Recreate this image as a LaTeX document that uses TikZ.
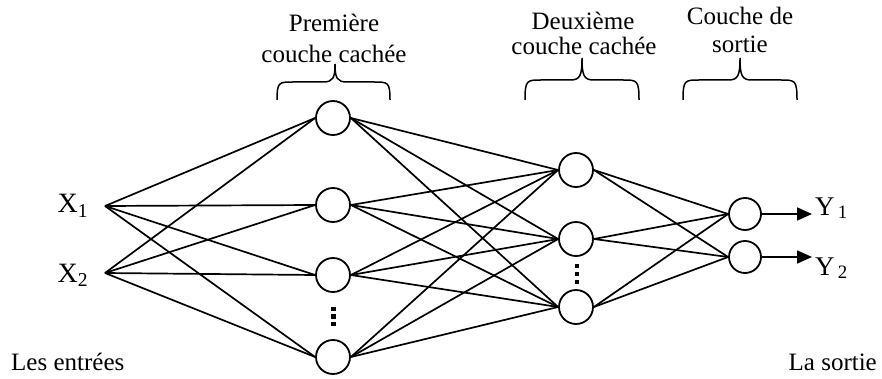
\documentclass[tikz,border=0pt]{standalone}
\usepackage{fontspec}
\setmainfont{Liberation Serif}
\usetikzlibrary{arrows.meta}
\tikzset{
  neuron/.style={circle,draw,line width=1.8pt,minimum size=34pt,inner sep=0pt},
  oneuron/.style={circle,draw,line width=1.8pt,minimum size=32pt,inner sep=0pt},
  conn/.style={line width=1.7pt},
  bracestyle/.style={line width=1.5pt},
  lbl/.style={font=\fontsize{25}{29}\selectfont,anchor=base,inner sep=0pt},
  inlbl/.style={font=\fontsize{28}{32}\selectfont,anchor=base,inner sep=0pt},
  outlbl/.style={font=\fontsize{27}{31}\selectfont,anchor=base west,inner sep=0pt},
  dotsq/.style={fill=black}
}
\begin{document}
\begin{tikzpicture}[x=1pt,y=-1pt]
\useasboundingbox (0,0) rectangle (882,379);
% inputs
\node[inlbl] (x1) at (73,213) {X\textsubscript{1}};
\node[inlbl] (x2) at (73,282) {X\textsubscript{2}};
\coordinate (i1) at (105,206);
\coordinate (i2) at (105,273);
% layer 1
\node[neuron] (a1) at (333,118) {};
\node[neuron] (a2) at (333,205) {};
\node[neuron] (a3) at (333,275) {};
\node[neuron] (a4) at (333,357) {};
% layer 2
\node[neuron] (b1) at (576,170) {};
\node[neuron] (b2) at (576,239) {};
\node[neuron] (b3) at (576,307) {};
% output
\node[oneuron] (c1) at (745,214) {};
\node[oneuron] (c2) at (745,257) {};
% connections
\foreach \i in {i1,i2}{\foreach \a in {a1,a2,a3,a4}{\draw[conn] (\i) -- (\a.west);}}
\foreach \a in {a1,a2,a3,a4}{\foreach \b in {b1,b2,b3}{\draw[conn] (\a.east) -- (\b.west);}}
\foreach \b in {b1,b2,b3}{\foreach \c in {c1,c2}{\draw[conn] (\b.east) -- (\c.west);}}
% outputs
\coordinate (o1) at (812,214);
\coordinate (o2) at (812,257);
\draw[conn,-{Triangle[length=15pt,width=13pt]}] (c1.east) -- (o1);
\draw[conn,-{Triangle[length=15pt,width=13pt]}] (c2.east) -- (o2);
\node[outlbl] (y1) at (815,215) {Y\textsubscript{\,1}};
\node[outlbl] (y2) at (815,275) {Y\textsubscript{\,2}};
% dots
\foreach \yy in {309,316.5,324}{\fill[dotsq] (331,\yy-2.2) rectangle (335.5,\yy+2.2);}
\foreach \yy in {266,274,282}{\fill[dotsq] (574.5,\yy-2.2) rectangle (579,\yy+2.2);}
% headings
\node[lbl] (h1a) at (334,32) {Première};
\node[lbl] (h1b) at (334,63) {couche cachée};
\node[lbl] (h2a) at (583,30) {Deuxième};
\node[lbl] (h2b) at (584,55) {couche cachée};
\node[lbl] (h3a) at (740,25) {Couche de};
\node[lbl] (h3b) at (740,53) {sortie};
% braces
\foreach \L/\M/\R/\F/\T in {277/335/390/82/64, 525/582/639/80/58, 683/740/797/80/58}{
  \draw[bracestyle] (\L,100) .. controls (\L,\F) and (\L+2,\F) .. (\L+16,\F)
    -- (\M-12,\F) .. controls (\M-2,\F) and (\M,\F-4) .. (\M,\T)
    .. controls (\M,\F-4) and (\M+2,\F) .. (\M+12,\F)
    -- (\R-16,\F) .. controls (\R-2,\F) and (\R,\F) .. (\R,100);
}
% bottom labels
\node[lbl,anchor=base west] (le) at (11,370) {Les entrées};
\node[lbl,anchor=base east] (ls) at (877,370) {La sortie};
\end{tikzpicture}
\end{document}
